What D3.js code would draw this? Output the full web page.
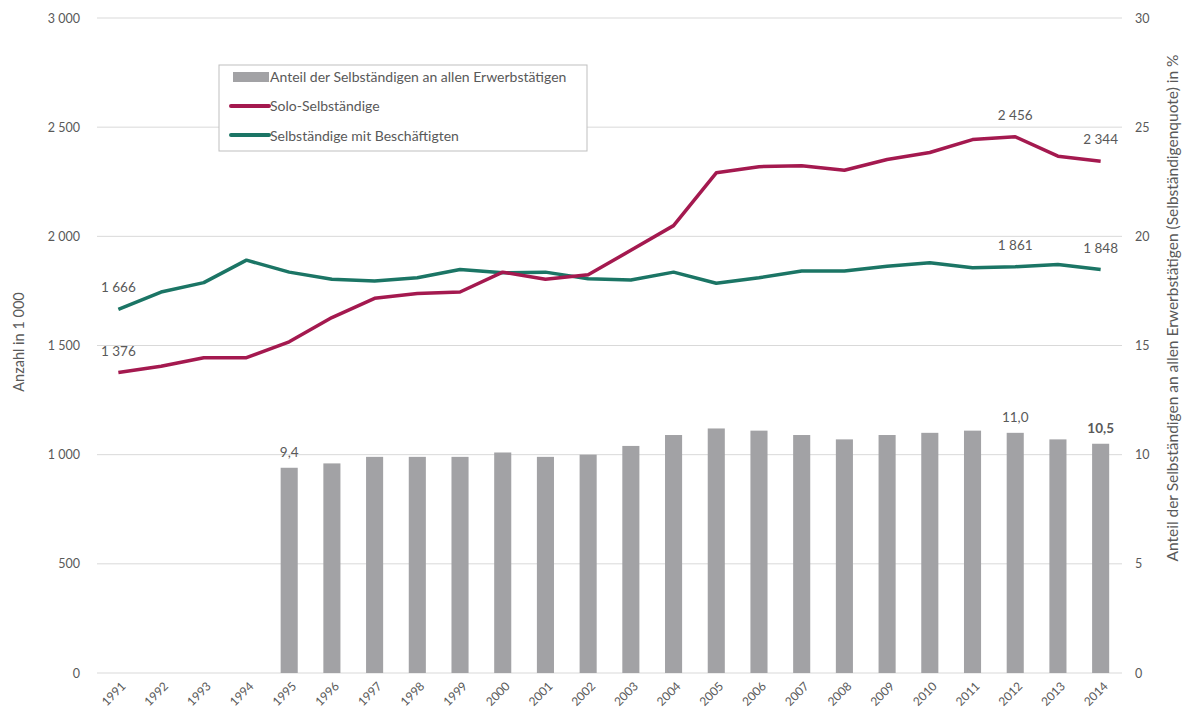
<!DOCTYPE html>
<html>
<head>
<meta charset="utf-8">
<script src="https://cdn.jsdelivr.net/npm/d3@7"></script>
<style>
  body { margin: 0; background: #fff; }
  text { font-family: Lato, "Open Sans", sans-serif; fill: #595959; }
</style>
</head>
<body>
<svg id="chart" width="1187" height="718"></svg>
<script>
var years = ["1991","1992","1993","1994","1995","1996","1997","1998","1999","2000","2001","2002",
             "2003","2004","2005","2006","2007","2008","2009","2010","2011","2012","2013","2014"];
// Selbständigenquote in % (from 1995)
var quoteYears = years.slice(4);
var quote = [9.4, 9.6, 9.9, 9.9, 9.9, 10.1, 9.9, 10.0, 10.4, 10.9, 11.2, 11.1, 10.9, 10.7, 10.9, 11.0, 11.1, 11.0, 10.7, 10.5];
// in 1 000
var solo = [1376, 1405, 1444, 1444, 1517, 1628, 1716, 1738, 1745, 1836, 1803, 1824,
            1936, 2049, 2291, 2319, 2323, 2303, 2352, 2384, 2443, 2456, 2367, 2344];
var mitBesch = [1666, 1745, 1788, 1891, 1836, 1803, 1795, 1810, 1848, 1833, 1836, 1806,
                1800, 1836, 1785, 1810, 1841, 1841, 1863, 1879, 1856, 1861, 1871, 1848];
var leftTicks = [0, 500, 1000, 1500, 2000, 2500, 3000];
var rightTicks = [0, 5, 10, 15, 20, 25, 30];
var lineLabelYears = ["1991", "2012", "2014"];
var barLabelYears = ["1995", "2012", "2014"];
var legendItems = ["Anteil der Selbständigen an allen Erwerbstätigen", "Solo-Selbständige", "Selbständige mit Beschäftigten"];

var red = "#a4194f", green = "#1b7565", grey = "#a2a2a5";
var svg = d3.select("#chart");
var pLeft = 97, pRight = 1122, pTop = 18, pBottom = 673;

var x = d3.scaleBand().domain(years).range([pLeft, pRight]).paddingInner(0.6).paddingOuter(0.3);
var yL = d3.scaleLinear().domain([0, 3000]).range([pBottom, pTop]);
var yR = d3.scaleLinear().domain([0, 30]).range([pBottom, pTop]);
var cx = function(yr) { return x(yr) + x.bandwidth() / 2; };
var fmt = function(v) { return d3.format(",")(v).replace(/,/g, " "); };

// grid
svg.append("g").selectAll("line").data(leftTicks).enter().append("line")
  .attr("x1", pLeft).attr("x2", pRight)
  .attr("y1", function(d) { return yL(d); }).attr("y2", function(d) { return yL(d); })
  .attr("stroke", "#d9d9d9").attr("stroke-width", 1);

// left axis
var la = svg.append("g").attr("transform", "translate(" + (pLeft - 14) + ",0)")
  .call(d3.axisLeft(yL).tickValues(leftTicks).tickSize(0).tickFormat(fmt));
la.select(".domain").remove();
la.selectAll("text").attr("font-size", 12.5).attr("fill", "#595959")
  .style("font-family", "Lato, sans-serif");

// right axis
var ra = svg.append("g").attr("transform", "translate(" + (pRight + 10) + ",0)")
  .call(d3.axisRight(yR).tickValues(rightTicks).tickSize(0));
ra.select(".domain").remove();
ra.selectAll("text").attr("font-size", 12.5).attr("fill", "#595959")
  .style("font-family", "Lato, sans-serif");

// x axis labels
svg.append("g").selectAll("text").data(years).enter().append("text")
  .attr("transform", function(d) { return "translate(" + (cx(d) + 5) + "," + (pBottom + 11) + ") rotate(-45)"; })
  .attr("text-anchor", "end").attr("dy", "0.35em")
  .attr("font-size", 12).text(function(d) { return d; });

// bars
svg.append("g").selectAll("rect").data(quote).enter().append("rect")
  .attr("x", function(d, i) { return x(quoteYears[i]); })
  .attr("width", x.bandwidth())
  .attr("y", function(d) { return yR(d); })
  .attr("height", function(d) { return pBottom - yR(d); })
  .attr("fill", grey);

// lines
var line = function(vals) {
  return d3.line().x(function(d, i) { return cx(years[i]); }).y(function(d) { return yL(d); })(vals);
};
svg.append("path").attr("d", line(mitBesch)).attr("fill", "none")
  .attr("stroke", green).attr("stroke-width", 3.5).attr("stroke-linejoin", "round");
svg.append("path").attr("d", line(solo)).attr("fill", "none")
  .attr("stroke", red).attr("stroke-width", 3.5).attr("stroke-linejoin", "round");

// data labels
[solo, mitBesch].forEach(function(series) {
  svg.append("g").selectAll("text").data(lineLabelYears).enter().append("text")
    .attr("x", function(d) { return cx(d); })
    .attr("y", function(d) { return yL(series[years.indexOf(d)]) - 17; })
    .attr("text-anchor", "middle").attr("font-size", 13.5).attr("fill", "#404040")
    .text(function(d) { return fmt(series[years.indexOf(d)]); });
});
svg.append("g").selectAll("text").data(barLabelYears).enter().append("text")
  .attr("x", function(d) { return cx(d); })
  .attr("y", function(d) { return yR(quote[quoteYears.indexOf(d)]) - 11; })
  .attr("text-anchor", "middle").attr("font-size", 13.5).attr("fill", "#404040")
  .attr("font-weight", function(d, i) { return i === barLabelYears.length - 1 ? "bold" : "normal"; })
  .text(function(d) { return d3.format(".1f")(quote[quoteYears.indexOf(d)]).replace(".", ","); });

// axis titles
svg.append("text").attr("transform", "translate(24,342) rotate(-90)")
  .attr("text-anchor", "middle").attr("font-size", 14.5).text("Anzahl in 1 000");
svg.append("text").attr("transform", "translate(1178,308) rotate(-90)")
  .attr("text-anchor", "middle").attr("font-size", 15.5)
  .text("Anteil der Selbständigen an allen Erwerbstätigen (Selbständigenquote) in %");

// legend
var lg = svg.append("g").attr("transform", "translate(219,65)");
lg.append("rect").attr("width", 368).attr("height", 86)
  .attr("fill", "#fff").attr("stroke", "#bfbfbf").attr("stroke-width", 1);
lg.append("rect").attr("x", 14).attr("y", 7).attr("width", 36).attr("height", 10).attr("fill", grey);
lg.append("line").attr("x1", 12).attr("x2", 50).attr("y1", 41).attr("y2", 41)
  .attr("stroke", red).attr("stroke-width", 4).attr("stroke-linecap", "round");
lg.append("line").attr("x1", 12).attr("x2", 50).attr("y1", 70).attr("y2", 70)
  .attr("stroke", green).attr("stroke-width", 4).attr("stroke-linecap", "round");
lg.selectAll("text.lt").data(legendItems).enter().append("text")
  .attr("x", 51).attr("y", function(d, i) { return 12 + i * 29.5; })
  .attr("dy", "0.35em").attr("font-size", 14).attr("fill", "#404040")
  .text(function(d) { return d; });
</script>
</body>
</html>
